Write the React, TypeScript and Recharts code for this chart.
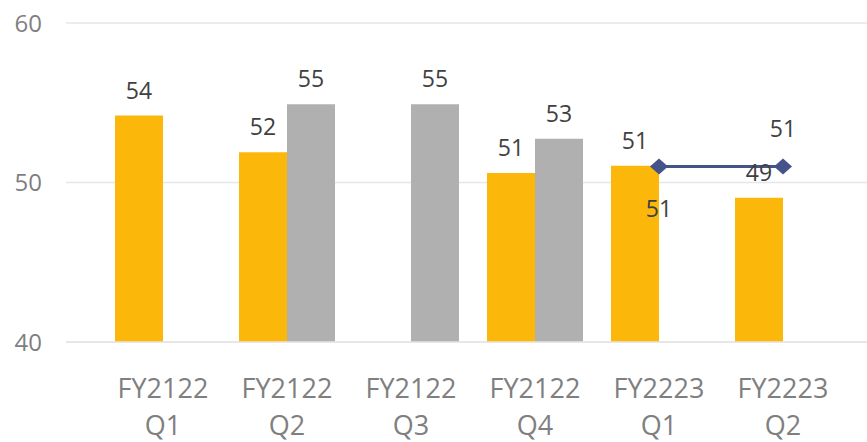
import {
  Bar,
  CartesianGrid,
  ComposedChart,
  LabelList,
  Line,
  XAxis,
  YAxis,
} from "recharts";

const categories = [
  "FY2122 Q1",
  "FY2122 Q2",
  "FY2122 Q3",
  "FY2122 Q4",
  "FY2223 Q1",
  "FY2223 Q2",
];
const yellowValues = [54.2, 51.9, null, 50.6, 51.05, 49.05];
const grayValues = [null, 54.9, 54.9, 52.75, null, null];
const lineValues = [null, null, null, null, 51, 51];
const yTicks = [40, 50, 60];

const data = categories.map((name, i) => ({
  name,
  yellow: yellowValues[i],
  gray: grayValues[i],
  line: lineValues[i],
}));

const FONT = "'Open Sans', sans-serif";

function CategoryTick(props: any) {
  const { x, y, payload } = props;
  const [top, bottom] = String(payload.value).split(" ");
  return (
    <g>
      <text x={x} y={y + 48} textAnchor="middle" fill="#7f7f7f" fontSize={27} fontFamily={FONT}>
        {top}
      </text>
      <text x={x} y={y + 85} textAnchor="middle" fill="#7f7f7f" fontSize={27} fontFamily={FONT}>
        {bottom}
      </text>
    </g>
  );
}

function Diamond(props: any) {
  const { cx, cy } = props;
  if (cx == null || cy == null) return null;
  return (
    <path
      d={`M${cx - 9},${cy} L${cx},${cy - 8} L${cx + 9},${cy} L${cx},${cy + 8} Z`}
      fill="#44548a"
    />
  );
}

function LineLabel(props: any) {
  const { x, y, value, index } = props;
  if (value == null) return null;
  const dy = index === 4 ? 50 : -30;
  return (
    <text x={x} y={y + dy} textAnchor="middle" fill="#404040" fontSize={23} fontFamily={FONT}>
      {Math.round(value)}
    </text>
  );
}

export default function App() {
  return (
    <div style={{ position: "absolute", left: 0, top: 0, background: "#fff" }}>
      <ComposedChart
        width={867}
        height={442}
        data={data}
        margin={{ top: 23, right: 0, bottom: 0, left: 0 }}
        barCategoryGap={14}
        barGap={0}
      >
        <CartesianGrid horizontal vertical={false} stroke="#e6e6e6" strokeWidth={1.5} />
        <XAxis
          dataKey="name"
          height={100}
          padding={{ left: 35, right: 22 }}
          axisLine={{ stroke: "#e6e6e6", strokeWidth: 1.5 }}
          tickLine={false}
          tick={<CategoryTick />}
          interval={0}
        />
        <YAxis
          width={66}
          domain={[40, 60]}
          ticks={yTicks}
          axisLine={false}
          tickLine={false}
          tickSize={0}
          tickMargin={24}
          tick={{ fill: "#7f7f7f", fontSize: 24, fontFamily: FONT }}
        />
        <Bar dataKey="yellow" fill="#fbb80a" isAnimationActive={false}>
          <LabelList
            dataKey="yellow"
            position="top"
            offset={17}
            formatter={(v: any) => (v == null ? "" : Math.round(v))}
            style={{ fill: "#404040", fontSize: 23, fontFamily: FONT }}
          />
        </Bar>
        <Bar dataKey="gray" fill="#b0b0b0" isAnimationActive={false}>
          <LabelList
            dataKey="gray"
            position="top"
            offset={17}
            formatter={(v: any) => (v == null ? "" : Math.round(v))}
            style={{ fill: "#404040", fontSize: 23, fontFamily: FONT }}
          />
        </Bar>
        <Line
          dataKey="line"
          stroke="#44548a"
          strokeWidth={3}
          dot={<Diamond />}
          activeDot={false}
          isAnimationActive={false}
        >
          <LabelList dataKey="line" content={<LineLabel />} />
        </Line>
      </ComposedChart>
    </div>
  );
}
